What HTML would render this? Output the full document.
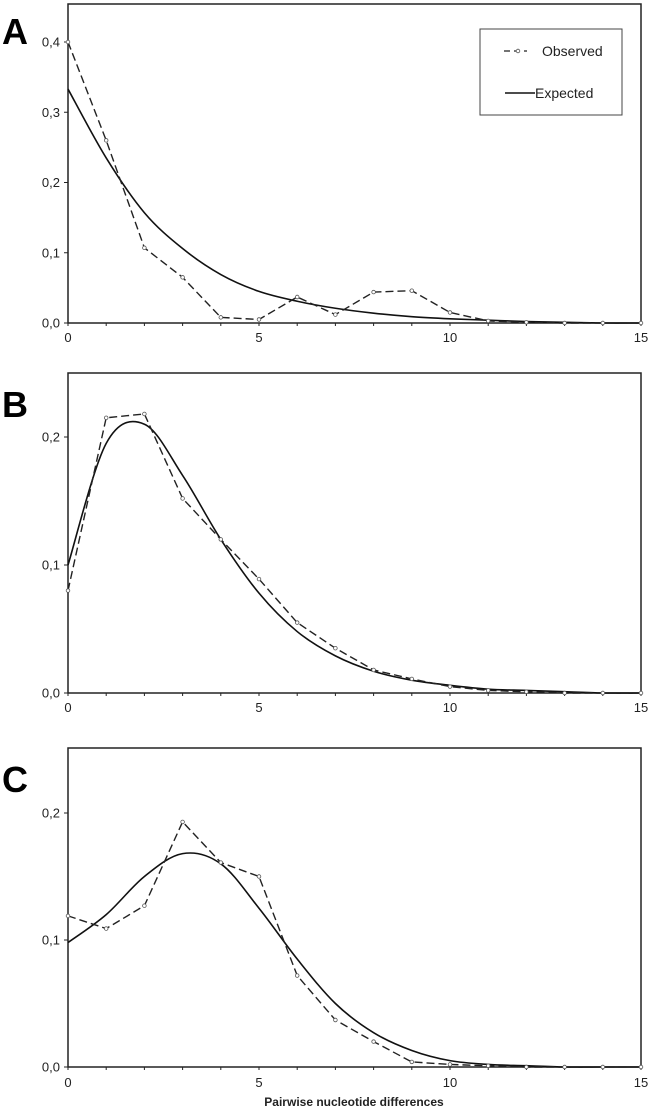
<!DOCTYPE html>
<html><head><meta charset="utf-8"><style>
body{margin:0;background:#fff;}
svg{display:block;font-family:"Liberation Sans",Arial,sans-serif;}
</style></head><body>
<svg id="fig" width="652" height="1114" viewBox="0 0 652 1114"></svg>
<script>
const xCats=[0,1,2,3,4,5,6,7,8,9,10,11,12,13,14,15];
const xTickLabels=["0","5","10","15"];
const xTickVals=[0,5,10,15];
const obsA=[0.40,0.26,0.107,0.065,0.008,0.005,0.037,0.012,0.044,0.046,0.015,0.003,0.001,0,0,0];
const expA=[0.333,0.235,0.157,0.106,0.069,0.045,0.031,0.021,0.014,0.009,0.006,0.004,0.002,0.001,0,0];
const obsB=[0.08,0.215,0.218,0.152,0.12,0.089,0.055,0.035,0.018,0.011,0.005,0.002,0.001,0,0,0];
const expB=[0.10,0.195,0.21,0.17,0.12,0.078,0.048,0.029,0.017,0.010,0.006,0.003,0.002,0.001,0,0];
const obsC=[0.119,0.109,0.127,0.193,0.161,0.150,0.072,0.037,0.020,0.004,0.002,0.001,0,0,0,0];
const expC=[0.098,0.12,0.15,0.168,0.16,0.125,0.085,0.05,0.027,0.013,0.005,0.002,0.001,0,0,0];
const yTicksA=["0,0","0,1","0,2","0,3","0,4"];
const yTicksB=["0,0","0,1","0,2"];
const yTicksC=["0,0","0,1","0,2"];

const NS="http://www.w3.org/2000/svg";
const svg=document.getElementById('fig');
function mk(tag,attrs,parent){const e=document.createElementNS(NS,tag);for(const k in attrs)e.setAttribute(k,attrs[k]);(parent||svg).appendChild(e);return e;}
const X0=68,X1=641;
function xs(v){return X0+(X1-X0)*v/15;}
function smooth(pts){let d="M"+pts[0][0]+","+pts[0][1];for(let i=0;i<pts.length-1;i++){const p0=pts[i-1]||pts[i],p1=pts[i],p2=pts[i+1],p3=pts[i+2]||p2;
const c1=[p1[0]+(p2[0]-p0[0])/6,p1[1]+(p2[1]-p0[1])/6],c2=[p2[0]-(p3[0]-p1[0])/6,p2[1]-(p3[1]-p1[1])/6];
d+=" C"+c1[0]+","+c1[1]+" "+c2[0]+","+c2[1]+" "+p2[0]+","+p2[1];}return d;}

function panel(name,letter,top,y0,pxPer01,yLabels,obs,exp,xLabelY){
  const g=mk('g',{});
  
  
  const ys=v=>y0-pxPer01*v/0.1;
  const frame=mk('rect',{x:X0,y:top,width:X1-X0,height:y0-top,fill:'none',stroke:'#222','stroke-width':1.5},g);
  
  
  const lt=mk('text',{x:2,y:top+44-(name==='a'?4:0),'font-size':36,'font-weight':'bold',fill:'#000'},g);
  lt.textContent=letter;
  
  
  yLabels.forEach((lab,i)=>{const y=ys(i*0.1);
    mk('line',{x1:X0-4,x2:X0,y1:y,y2:y,stroke:'#222','stroke-width':1},g);
    const t=mk('text',{x:X0-8,y:y+4.5,'font-size':13,'text-anchor':'end',fill:'#222'},g);t.textContent=lab;
    
    });
  xCats.forEach(v=>{mk('line',{x1:xs(v),x2:xs(v),y1:y0,y2:y0+3,stroke:'#222','stroke-width':1},g);});
  xTickVals.forEach((v,i)=>{const t=mk('text',{x:xs(v),y:xLabelY+1,'font-size':13,'text-anchor':'middle',fill:'#222'},g);t.textContent=xTickLabels[i];
    
    });
  const ep=mk('path',{d:smooth(xCats.map((v,i)=>[xs(v),ys(exp[i])])),fill:'none',stroke:'#111','stroke-width':1.6},g);
  
  
  const op=mk('polyline',{points:xCats.map((v,i)=>xs(v)+","+ys(obs[i])).join(" "),fill:'none',stroke:'#222','stroke-width':1.4,'stroke-dasharray':'8,4'},g);
  
  
  xCats.forEach((v,i)=>{const c=mk('circle',{cx:xs(v),cy:ys(obs[i]),r:1.8,fill:'#fff',stroke:'#555','stroke-width':0.8},g);
    
    });
}
panel('a','A',4,323,70.25,yTicksA,obsA,expA,341);
panel('b','B',373,693,128,yTicksB,obsB,expB,711);
panel('c','C',748,1067,127,yTicksC,obsC,expC,1086);

const xl=mk('text',{x:354,y:1106,'font-size':12,'font-weight':'bold','text-anchor':'middle',fill:'#222'});
xl.textContent="Pairwise nucleotide differences";



const lg=mk('g',{});


mk('rect',{x:480,y:29,width:142,height:86,fill:'#fff',stroke:'#444','stroke-width':1},lg);
mk('line',{x1:504,x2:527,y1:51,y2:51,stroke:'#222','stroke-width':1.2,'stroke-dasharray':'6,4'},lg);
mk('circle',{cx:518,cy:51,r:1.8,fill:'#fff',stroke:'#555','stroke-width':0.8},lg);
const l1=mk('text',{x:542,y:56,'font-size':14,fill:'#222'},lg);l1.textContent="Observed";


mk('line',{x1:505,x2:535,y1:93,y2:93,stroke:'#111','stroke-width':1.4},lg);
const l2=mk('text',{x:535,y:98,'font-size':14,fill:'#222'},lg);l2.textContent="Expected";


</script>
</body></html>
